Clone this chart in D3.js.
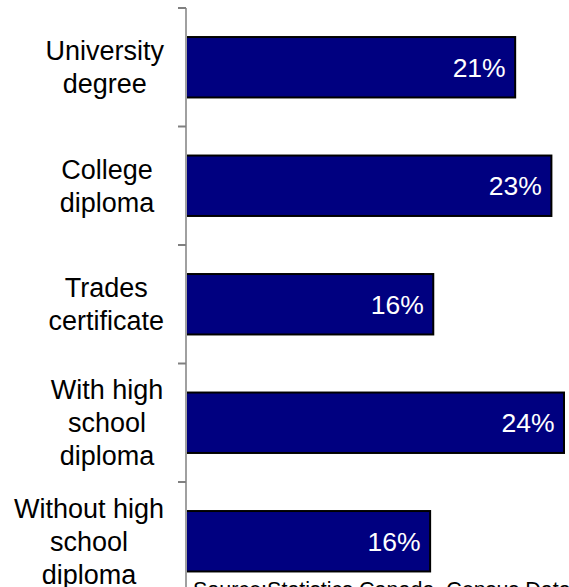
<!DOCTYPE html>
<html>
<head>
<meta charset="utf-8">
<script src="https://cdn.jsdelivr.net/npm/d3@7"></script>
<style>
  body { margin: 0; background: #fff; }
  svg { display: block; font-family: Arial, "Liberation Sans", sans-serif; }
</style>
</head>
<body>
<div id="chart"></div>
<script>
// category labels, one line per array entry
var categories = [
    ['University', 'degree'],
    ['College', 'diploma'],
    ['Trades', 'certificate'],
    ['With high', 'school', 'diploma'],
    ['Without high', 'school', 'diploma']
];
// share of people, percent
var values = [20.9, 23.2, 15.7, 24.0, 15.5];
var source = 'Source:Statistics Canada, Census Data';

var width = 569, height = 587;
var svg = d3.select('#chart').append('svg')
    .attr('width', width)
    .attr('height', height);

var axisX = 186;
var keys = categories.map(function (d, i) { return i; });

var y = d3.scaleBand()
    .domain(keys)
    .range([8, 8 + 118.5 * keys.length])
    .paddingInner(0.49)
    .paddingOuter(0.245);

var x = d3.scaleLinear()
    .domain([0, 24])
    .range([axisX, 564]);

// bars
svg.selectAll('rect.bar').data(values).enter().append('rect')
    .attr('class', 'bar')
    .attr('x', x(0))
    .attr('y', function (d, i) { return y(i); })
    .attr('width', function (d) { return x(d) - x(0); })
    .attr('height', y.bandwidth())
    .attr('fill', '#000080')
    .attr('stroke', '#000')
    .attr('stroke-width', 2);

// value labels inside the bars
svg.selectAll('text.val').data(values).enter().append('text')
    .attr('class', 'val')
    .attr('x', function (d) { return x(d) - 9.5; })
    .attr('y', function (d, i) { return y(i) + y.bandwidth() / 2; })
    .attr('dy', '0.36em')
    .attr('text-anchor', 'end')
    .attr('fill', '#fff')
    .attr('font-size', 26.5)
    .text(function (d) { return Math.round(d) + '%'; });

// vertical axis with ticks on the band boundaries
var bounds = keys.map(function (i) { return 8 + i * 118.5; });
svg.append('line')
    .attr('x1', axisX).attr('x2', axisX)
    .attr('y1', 8).attr('y2', height)
    .attr('stroke', '#a0a0a0').attr('stroke-width', 2);
svg.selectAll('line.tick').data(bounds).enter().append('line')
    .attr('class', 'tick')
    .attr('x1', axisX - 8).attr('x2', axisX)
    .attr('y1', function (d) { return d; })
    .attr('y2', function (d) { return d; })
    .attr('stroke', '#808080').attr('stroke-width', 2);

// category labels: centred at 107, pushed left if they would reach the axis
var lineH = 33, labelCx = 107, labelRight = 164;
svg.selectAll('text.cat').data(categories).enter().append('text')
    .attr('class', 'cat')
    .attr('text-anchor', 'middle')
    .attr('font-size', 27)
    .attr('fill', '#000')
    .each(function (lines, i) {
        var g = d3.select(this);
        var cy = y(i) + y.bandwidth() / 2;
        var top = cy - (lines.length - 1) * lineH / 2;
        var spans = g.selectAll('tspan').data(lines).enter().append('tspan')
            .attr('x', labelCx)
            .attr('y', function (l, j) { return top + j * lineH; })
            .attr('dy', '0.36em')
            .text(function (l) { return l; });
        var w = d3.max(spans.nodes(), function (n) { return n.getComputedTextLength(); });
        var cx = Math.min(labelCx, labelRight - w / 2);
        spans.attr('x', cx);
    });

// source note, cut off by the window like the original
svg.append('text')
    .attr('x', 193)
    .attr('y', 597)
    .attr('font-size', 21.5)
    .attr('fill', '#000')
    .text(source);
</script>
</body>
</html>
